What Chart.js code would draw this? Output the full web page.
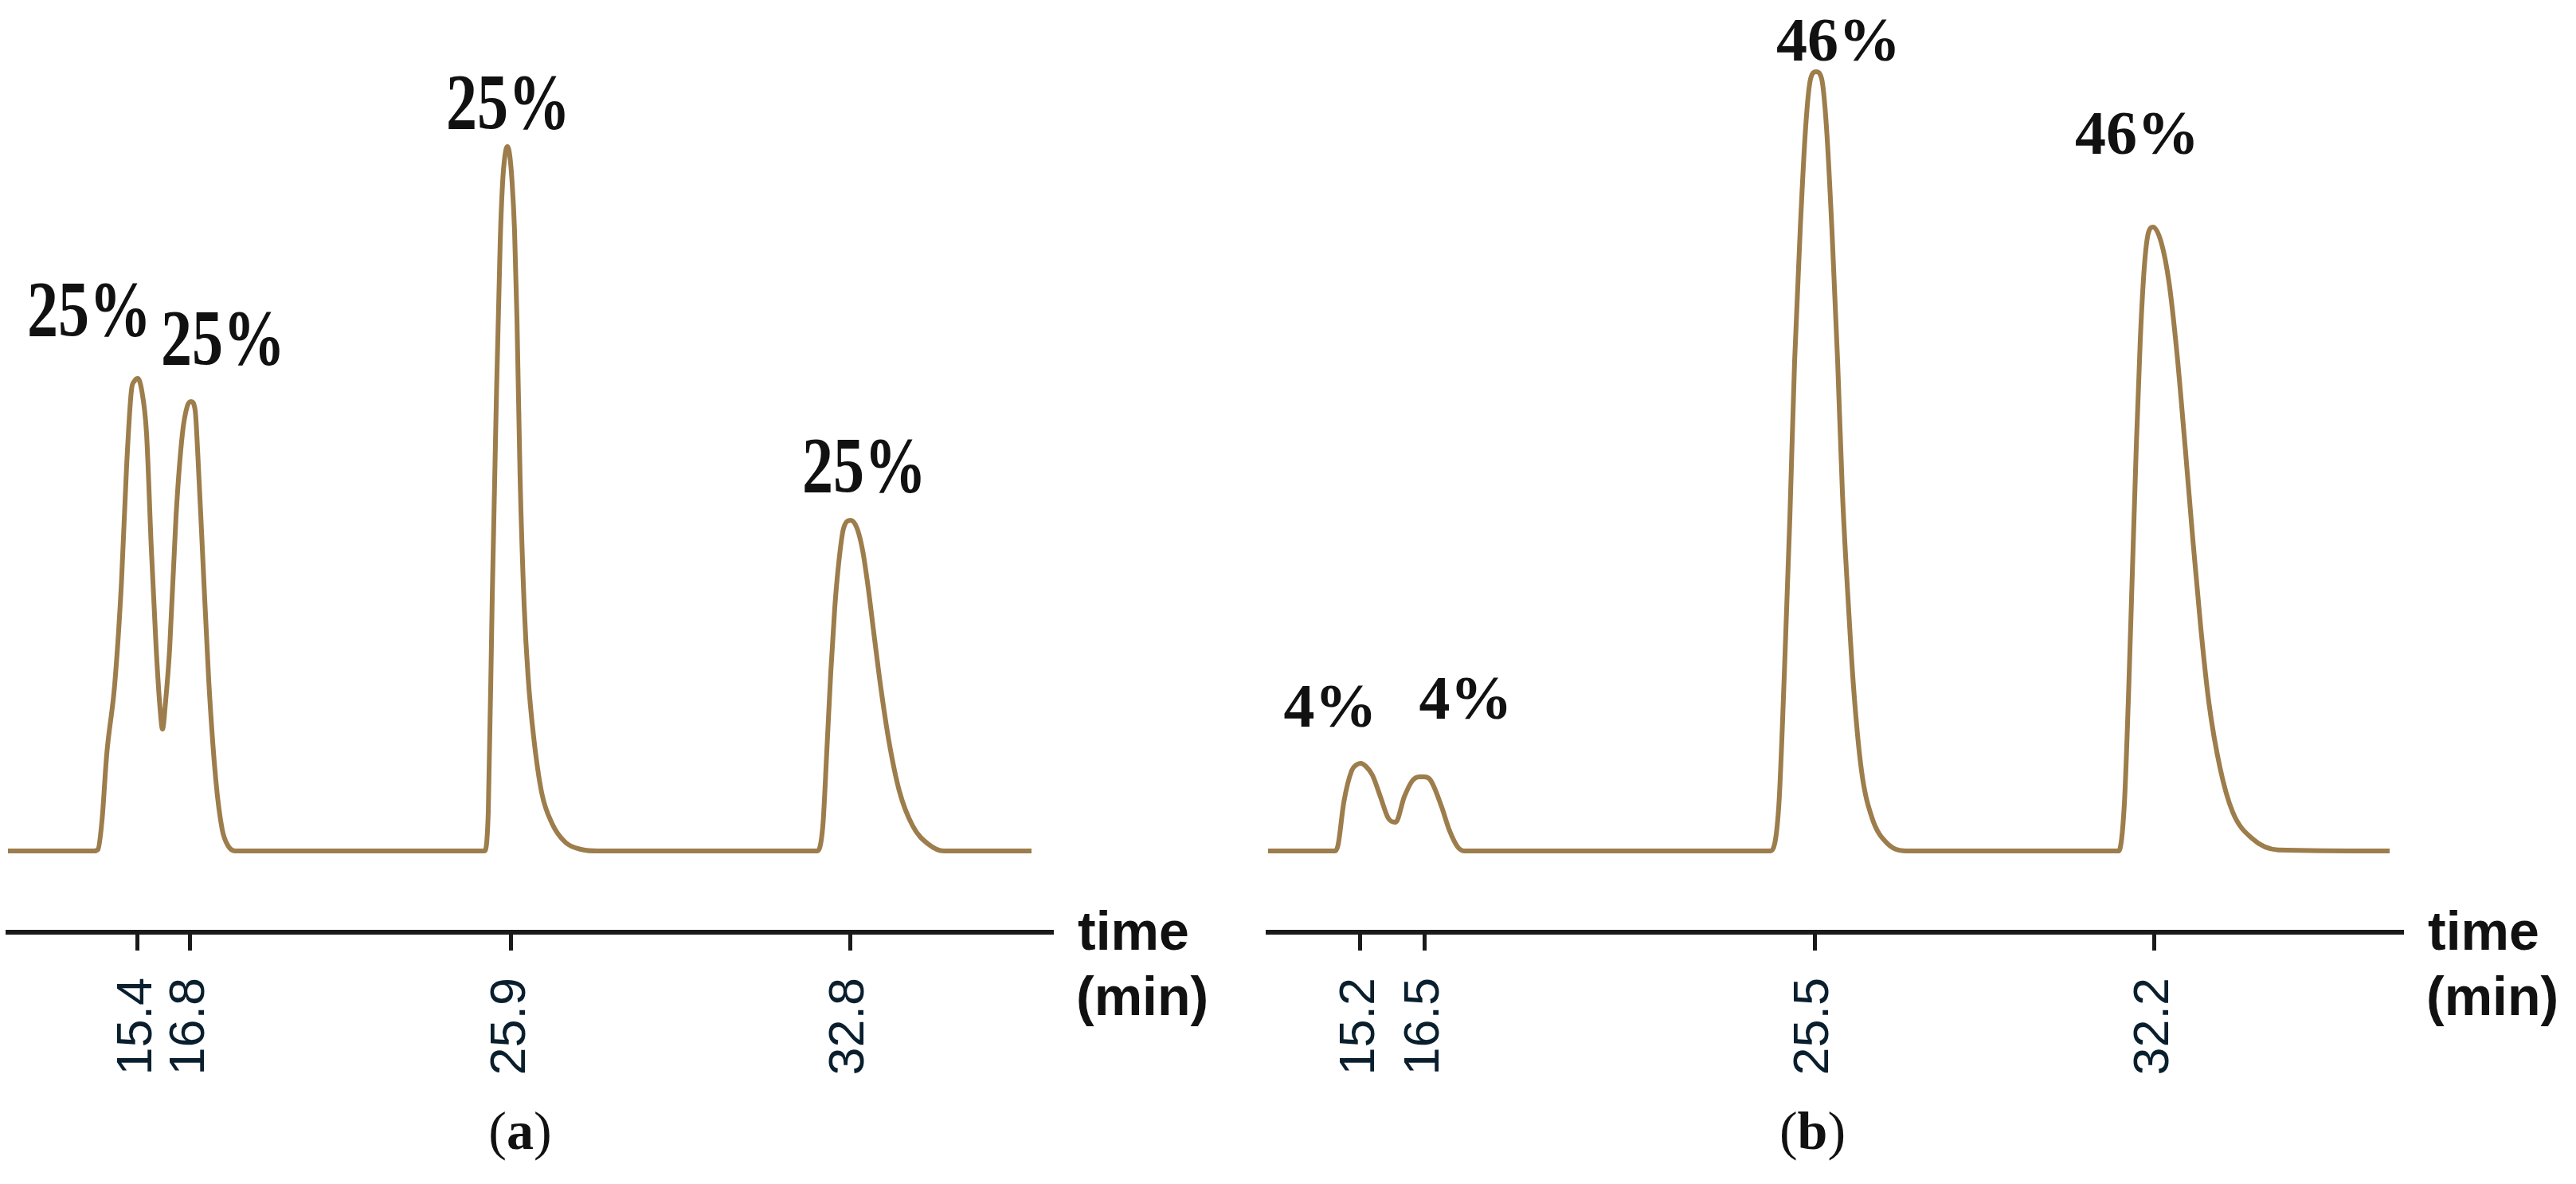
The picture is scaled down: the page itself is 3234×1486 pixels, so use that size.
<!DOCTYPE html>
<html>
<head>
<meta charset="utf-8">
<script src="https://cdn.jsdelivr.net/npm/chart.js@4.4.1/dist/chart.umd.min.js"></script>
<style>
  html, body { margin: 0; padding: 0; background: #fff; }
  #wrap { position: relative; width: 3234px; height: 1486px; overflow: hidden; background: #fff; }
  canvas { position: absolute; top: 0; }
  #ca { left: 0; }
  #cb { left: 1580px; }
</style>
</head>
<body>
<div id="wrap">
  <canvas id="ca" width="1580" height="1486"></canvas>
  <canvas id="cb" width="1654" height="1486"></canvas>
</div>
<script>
// ---------- Panel (a) ----------
// x: position along the drawn time axis (0 = left end, 100 = right end); y: detector signal (a.u.)
const tickPosA = [12.44, 17.48, 48.24, 80.69];
const tickLabelsA = ['15.4', '16.8', '25.9', '32.8'];
const traceXA = [0, 8.24, 8.63, 9.01, 9.47, 10.23, 10.88, 11.37, 11.83, 12.14,
  12.44, 12.82, 13.28, 13.74, 14.20, 14.58, 14.81, 15.11, 15.50, 16.11,
  16.72, 17.18, 17.56, 17.94, 18.17, 18.63, 19.24, 19.92, 20.53, 21.07,
  21.76, 45.65, 46.03, 46.41, 46.79, 47.18, 47.40, 47.63, 47.86, 48.09,
  48.32, 48.55, 48.78, 49.08, 49.47, 49.85, 50.38, 51.15, 52.14, 53.44,
  55.00, 56.50, 77.56, 78.09, 78.47, 78.85, 79.24, 79.62, 80.08, 80.76,
  81.37, 81.91, 82.37, 83.05, 83.66, 84.43, 85.42, 86.72, 88.17, 89.69, 98.09];
const traceYA = [0, 0, 0.23, 4.28, 13.75, 23.56, 38.11, 54.45, 65.16, 66.52,
  66.85, 65.16, 59.08, 42.73, 28.75, 20.07, 17.25, 21.20, 28.75, 47.46,
  59.08, 62.91, 63.59, 62.35, 56.82, 42.73, 24.13, 10.03, 3.04, 0.79,
  0, 0, 5.52, 35.85, 62.91, 86.58, 94.48, 98.42, 99.66, 98.42,
  94.48, 87.71, 75.31, 52.76, 34.72, 24.58, 16.12, 8.23, 3.90, 1.20,
  0.20, 0, 0, 3.49, 13.98, 25.14, 34.50, 40.81, 45.66, 46.79,
  45.66, 42.50, 38.00, 30.00, 23.00, 15.50, 8.50, 3.50, 1.00, 0, 0];
const peakTextA = ['25%', '25%', '25%', '25%'];
const peakTextXA = [7.79, 20.61, 47.94, 82.06];
const peakTextYA = [72.94, 68.88, 102.25, 50.85];

// ---------- Panel (b) ----------
const tickPosB = [8.15, 13.84, 48.21, 78.21];
const tickLabelsB = ['15.2', '16.5', '25.5', '32.2'];
const traceXB = [0, 5.90, 6.18, 6.68, 7.38, 7.80, 8.15, 8.64, 9.21, 9.91,
  10.61, 11.24, 12.02, 12.72, 13.35, 13.77, 14.27, 14.62, 15.32, 16.02,
  16.73, 17.29, 44.34, 45.05, 45.54, 46.03, 46.45, 46.94, 47.43, 47.86,
  48.35, 48.84, 49.26, 49.75, 50.25, 50.67, 51.16, 51.65, 52.35, 53.27,
  54.67, 56.57, 75.05, 75.54, 75.90, 76.25, 76.60, 76.95, 77.30, 77.65,
  78.07, 78.78, 79.48, 80.18, 80.89, 81.59, 82.29, 83.00, 83.98, 85.10,
  86.79, 89.11, 98.95];
const traceYB = [0, 0, 0.90, 6.88, 11.39, 12.18, 12.40, 11.95, 10.71, 7.67,
  4.62, 4.06, 7.67, 9.92, 10.48, 10.48, 10.15, 9.13, 6.20, 2.82,
  0.56, 0, 0, 6.20, 24.80, 47.01, 69.22, 87.71, 102.48, 109.24,
  110.26, 109.24, 102.48, 87.71, 69.22, 50.73, 35.85, 23.22, 11.39, 4.74,
  1.01, 0, 0, 6.54, 21.53, 39.46, 57.38, 72.38, 82.53, 87.37,
  88.28, 86.20, 80.50, 70.50, 57.50, 44.00, 31.50, 21.00, 11.80, 5.50,
  1.80, 0.15, 0];
const peakTextB = ['4%', '4%', '46%', '46%'];
const peakTextXB = [5.48, 17.43, 50.32, 76.67];
const peakTextYB = [17.59, 18.71, 111.84, 98.65];

const axisUnitTop = 'time';
const axisUnitBottom = '(min)';

// ---------- drawing helpers ----------
const annotPlugin = {
  id: 'annot',
  afterDraw(chart, args, o) {
    const { ctx, chartArea: ca } = chart;
    const xs = chart.scales.x, ys = chart.scales.y;
    ctx.save();
    ctx.fillStyle = '#111111';
    ctx.textBaseline = 'alphabetic';
    // peak percentage labels
    ctx.textAlign = 'center';
    ctx.font = 'bold 78px "Liberation Serif", "Times New Roman", serif';
    o.texts.forEach((t, i) => {
      const px = xs.getPixelForValue(o.xs[i]);
      const py = ys.getPixelForValue(o.ys[i]);
      ctx.save();
      ctx.translate(px, py);
      ctx.scale(1, o.stretch);
      ctx.fillText(t, 0, 0);
      ctx.restore();
    });
    // axis unit
    ctx.textAlign = 'left';
    ctx.font = 'bold 68px "Liberation Sans Narrow", "Liberation Sans", Arial, sans-serif';
    ctx.fillText(axisUnitTop, ca.right + 33, ca.bottom + 22);
    ctx.fillText(axisUnitBottom, ca.right + 31, ca.bottom + 104);
    // panel letter "(a)" with bold letter
    const parts = [['(', 'normal'], [o.letter, 'bold'], [')', 'normal']];
    let total = 0;
    const widths = parts.map(([s, w]) => {
      ctx.font = w + ' 68px "Liberation Serif", "Times New Roman", serif';
      const m = ctx.measureText(s).width; total += m; return m;
    });
    let cx = (ca.left + ca.right) / 2 + o.letterShift - total / 2;
    const by = ca.bottom + 272;
    parts.forEach(([s, w], i) => {
      ctx.font = w + ' 68px "Liberation Serif", "Times New Roman", serif';
      ctx.fillText(s, cx, by);
      cx += widths[i];
    });
    ctx.restore();
  }
};

function makeChart(id, tx, ty, tickPos, tickLabels, texts, txs, tys, stretch, letter, letterShift, padL, padR) {
  const data = tx.map((x, i) => ({ x: x, y: ty[i] }));
  return new Chart(document.getElementById(id), {
    type: 'line',
    data: {
      datasets: [{
        data: data,
        borderColor: '#9c7d4b',
        borderWidth: 6,
        pointRadius: 0,
        fill: false,
        cubicInterpolationMode: 'monotone'
      }]
    },
    options: {
      responsive: false,
      animation: false,
      devicePixelRatio: 1,
      layout: { padding: { left: padL, right: padR, top: 0, bottom: 0 } },
      plugins: {
        legend: { display: false },
        tooltip: { enabled: false },
        annot: { texts: texts, xs: txs, ys: tys, stretch: stretch, letter: letter, letterShift: letterShift }
      },
      scales: {
        x: {
          type: 'linear',
          min: 0, max: 100,
          afterBuildTicks: (s) => { s.ticks = tickPos.map(v => ({ value: v })); },
          afterFit: (s) => { s.height = 316; },
          border: { display: true, color: '#1a1a1a', width: 6 },
          grid: { drawOnChartArea: false, drawTicks: true, tickLength: 23, tickWidth: 5, tickColor: '#1a1a1a', lineWidth: 5, color: '#1a1a1a' },
          ticks: {
            autoSkip: false,
            minRotation: 90, maxRotation: 90,
            padding: 34,
            color: '#0a1f2e',
            font: { family: '"Liberation Sans Narrow", "Liberation Sans", Arial, sans-serif', size: 63 },
            callback: (v, i) => tickLabels[i]
          }
        },
        y: {
          display: false,
          min: -11.5, max: 120.41
        }
      }
    },
    plugins: [annotPlugin]
  });
}

makeChart('ca', traceXA, traceYA, tickPosA, tickLabelsA, peakTextA, peakTextXA, peakTextYA, 1.28, 'a', -12, 10, 260);
makeChart('cb', traceXB, traceYB, tickPosB, tickLabelsB, peakTextB, peakTextXB, peakTextYB, 1.0, 'b', -28, 12, 219);
</script>
</body>
</html>
